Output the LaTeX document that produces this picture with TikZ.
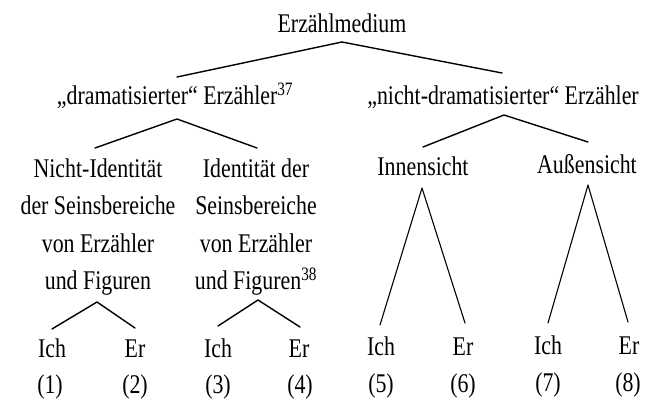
\documentclass[tikz,border=0pt]{standalone}
\usepackage{fontspec}
\setmainfont[FakeStretch=0.81]{Liberation Serif}
\usetikzlibrary{calc}
\begin{document}
\begin{tikzpicture}[x=1pt,y=-1pt,
  lab/.style={anchor=base,inner sep=0pt,font=\fontsize{27}{37.5}\selectfont},
  col/.style={lab,align=center},
  branch/.style={line width=1.4pt,line cap=round,line join=round},
  thinbranch/.style={branch,line width=1.1pt}]
\useasboundingbox (0,0) rectangle (650,401);
% labels (multi-line columns sit on the baseline of their last line)
\node[lab] (root) at (342,33) {Erzählmedium};
\node[lab] (dram) at (175,105) {„dramatisierter“ Erzähler\textsuperscript{37}};
\node[lab] (nd) at (503,105) {„nicht-dramatisierter“ Erzähler};
\node[col] (nid) at (98,289.5) {Nicht-Identität\\der Seinsbereiche\\von Erzähler\\und Figuren};
\node[col] (id) at (256,289.5) {Identität der\\Seinsbereiche\\von Erzähler\\und Figuren\textsuperscript{38}};
\node[lab] (innen) at (423,175) {Innensicht};
\node[lab] (aussen) at (587,173) {Außensicht};
\node[lab] (ich1) at (52,357) {Ich};
\node[lab] (er2) at (135,357) {Er};
\node[lab] (ich3) at (218,357) {Ich};
\node[lab] (er4) at (299,357) {Er};
\node[lab] (ich5) at (381,355) {Ich};
\node[lab] (er6) at (463,355) {Er};
\node[lab] (ich7) at (548,354) {Ich};
\node[lab] (er8) at (629,354) {Er};
\node[lab] (n1) at (50,393) {(1)};
\node[lab] (n2) at (135,393) {(2)};
\node[lab] (n3) at (218,393) {(3)};
\node[lab] (n4) at (300,393) {(4)};
\node[lab] (n5) at (381,392) {(5)};
\node[lab] (n6) at (463,392) {(6)};
\node[lab] (n7) at (548,391) {(7)};
\node[lab] (n8) at (628,391) {(8)};
% branches
\draw[branch] ($(dram.base)+(2,-28)$) -- ($(root.base)+(0,9)$) -- ($(nd.base)+(-1,-32)$);
\draw[branch] ($(nid.base)+(-3,-141.5)$) -- ($(dram.base)+(2,14)$) -- ($(id.base)+(1,-141.5)$);
\draw[branch] ($(innen.base)+(0,-28)$) -- ($(nd.base)+(1,10)$) -- ($(aussen.base)+(1,-31)$);
\draw[branch] ($(ich1.base)+(0,-28)$) -- ($(nid.base)+(-1,12.5)$) -- ($(er2.base)+(0,-29)$);
\draw[branch] ($(ich3.base)+(0,-31)$) -- ($(id.base)+(2,10.5)$) -- ($(er4.base)+(1,-30)$);
\draw[thinbranch] ($(ich5.base)+(-1,-30)$) -- ($(innen.base)+(-1,13)$) -- ($(er6.base)+(2,-32)$);
\draw[thinbranch] ($(ich7.base)+(0,-31)$) -- ($(aussen.base)+(1,12)$) -- ($(er8.base)+(-1,-32)$);
\end{tikzpicture}
\end{document}
